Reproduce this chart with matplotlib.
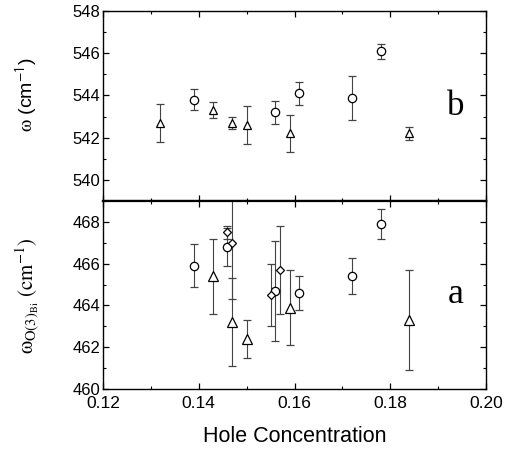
import matplotlib
matplotlib.use("Agg")
import matplotlib.pyplot as plt
from matplotlib.ticker import MultipleLocator

plt.rcParams['font.family'] = ['Liberation Sans', 'DejaVu Sans']
plt.rcParams['mathtext.fontset'] = 'stix'

# upper panel (b): 543 cm-1 mode
b_circ_x = [0.139, 0.156, 0.161, 0.172, 0.178]
b_circ_y = [543.8, 543.2, 544.1, 543.9, 546.1]
b_circ_e = [0.5, 0.53, 0.53, 1.04, 0.35]
b_tri_x = [0.132, 0.143, 0.147, 0.150, 0.159, 0.184]
b_tri_y = [542.7, 543.3, 542.7, 542.6, 542.2, 542.2]
b_tri_e = [0.9, 0.37, 0.3, 0.9, 0.88, 0.3]

# lower panel (a): O(3)Bi mode
a_circ_x = [0.139, 0.146, 0.156, 0.161, 0.172, 0.178]
a_circ_y = [465.9, 466.8, 464.7, 464.6, 465.4, 467.9]
a_circ_e = [1.02, 0.9, 2.4, 0.8, 0.86, 0.74]
a_tri_x = [0.143, 0.147, 0.150, 0.159, 0.184]
a_tri_y = [465.4, 463.2, 462.4, 463.9, 463.3]
a_tri_e = [1.8, 2.1, 0.9, 1.8, 2.4]
a_dia_x = [0.146, 0.147, 0.155, 0.157]
a_dia_y = [467.5, 467.0, 464.5, 465.7]
a_dia_e = [0.3, 2.7, 1.5, 2.1]

fig = plt.figure(figsize=(5.15, 4.53), dpi=100)
ax1 = fig.add_axes([0.2, 0.5563, 0.7437, 0.4194])
ax2 = fig.add_axes([0.2, 0.1413, 0.7437, 0.415], sharex=ax1)

ekw = dict(ecolor='#444444', elinewidth=0.8, capsize=3, capthick=0.8,
           linestyle='none', mfc='white', mec='black', mew=0.9)

ax1.errorbar(b_circ_x, b_circ_y, yerr=b_circ_e, fmt='o', ms=6, **ekw)
ax1.errorbar(b_tri_x, b_tri_y, yerr=b_tri_e, fmt='^', ms=6, **ekw)

ax2.errorbar(a_circ_x, a_circ_y, yerr=a_circ_e, fmt='o', ms=6, **ekw)
ax2.errorbar(a_tri_x, a_tri_y, yerr=a_tri_e, fmt='^', ms=6.5, **ekw)
ax2.errorbar(a_dia_x, a_dia_y, yerr=a_dia_e, fmt='D', ms=4, **ekw)

ax1.set_ylim(539, 548)
ax2.set_ylim(460, 469)
ax2.set_xlim(0.12, 0.20)
ax1.set_yticks([540, 542, 544, 546, 548])
ax2.set_yticks([460, 462, 464, 466, 468])
ax2.set_xticks([0.12, 0.14, 0.16, 0.18, 0.20])
ax2.set_xticklabels(['0.12', '0.14', '0.16', '0.18', '0.20'])

for ax in (ax1, ax2):
    ax.xaxis.set_minor_locator(MultipleLocator(0.01))
    ax.yaxis.set_minor_locator(MultipleLocator(1))
    ax.tick_params(which='both', direction='in', top=True, right=True)
    ax.tick_params(axis='y', labelsize=12, pad=2)
    ax.tick_params(axis='x', labelsize=12.5, pad=5)
    ax.tick_params(which='major', length=4, width=0.9)
    ax.tick_params(which='minor', length=2.5, width=0.8)
    for s in ax.spines.values():
        s.set_linewidth(1.0)
ax1.spines['bottom'].set_linewidth(1.6)
ax2.spines['top'].set_linewidth(1.6)
ax1.tick_params(labelbottom=False)

ax1.set_ylabel(r'$\mathrm{\omega}$ (cm$^{\mathsf{-1}}$)', fontsize=14)
ax1.yaxis.set_label_coords(-0.165, 0.56)
ax2.set_ylabel(r'$\mathrm{\omega_{O(3)_{Bi}}\ (cm^{-1})}$', fontsize=15)
ax2.yaxis.set_label_coords(-0.16, 0.495)
ax2.set_xlabel('Hole Concentration', fontsize=15.5, labelpad=11)

ax1.text(0.1937, 543.5, 'b', fontsize=25, family='Liberation Serif',
         ha='center', va='center')
ax2.text(0.1936, 464.5, 'a', fontsize=26, family='Liberation Serif',
         ha='center', va='center')

fig.savefig('out.png', dpi=100)
